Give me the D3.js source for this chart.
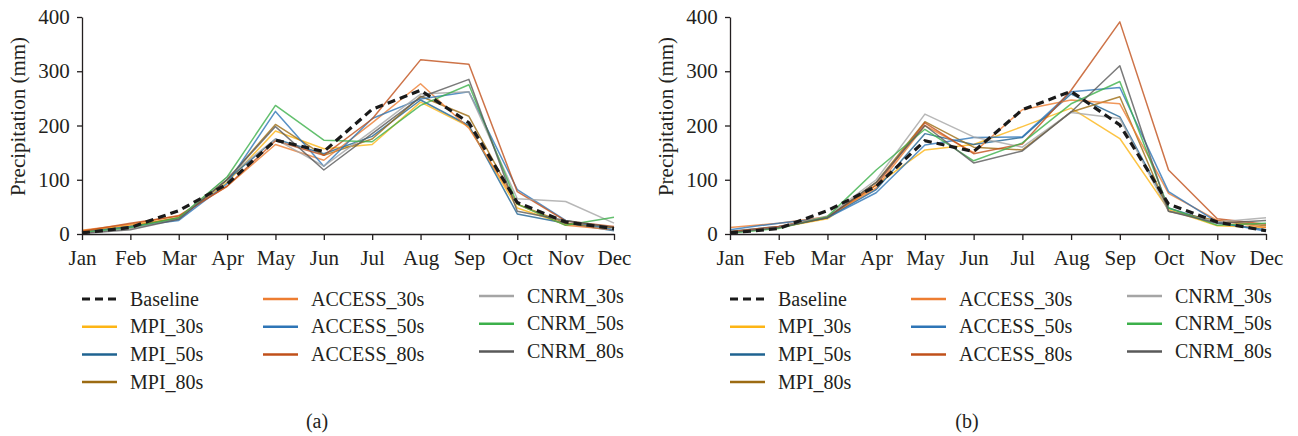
<!DOCTYPE html>
<html>
<head>
<meta charset="utf-8">
<script src="https://cdn.jsdelivr.net/npm/d3@7"></script>
<style>
  body { margin: 0; background: #fff; }
  text { font-family: "Liberation Serif", "DejaVu Serif", serif; fill: #231f20; }
  .axis path, .axis line { stroke: #231f20; stroke-width: 1.3; }
</style>
</head>
<body>
<script>
// monthly precipitation, two stations, baseline vs GCM projections

var months = ["Jan", "Feb", "Mar", "Apr", "May", "Jun", "Jul", "Aug", "Sep", "Oct", "Nov", "Dec"];
var yTicks = [0, 100, 200, 300, 400];

var seriesNames = ["Baseline", "MPI_30s", "MPI_50s", "MPI_80s",
                   "ACCESS_30s", "ACCESS_50s", "ACCESS_80s",
                   "CNRM_30s", "CNRM_50s", "CNRM_80s"];
var seriesColors = ["#1a1a1a", "#fdb515", "#1f6391", "#9c6b12",
                    "#ed7d31", "#2e75b6", "#c0501a",
                    "#a5a5a5", "#3cb04a", "#595959"];

// panel (a)
var a_baseline  = [2, 12, 43, 92, 173, 152, 230, 265, 205, 58, 22, 10];
var a_mpi30     = [6, 16, 30, 95, 190, 157, 165, 243, 198, 48, 18, 12];
var a_mpi50     = [3, 12, 28, 100, 175, 148, 180, 247, 200, 37, 20, 6];
var a_mpi80     = [4, 14, 30, 100, 202, 145, 175, 254, 217, 55, 20, 12];
var a_access30  = [7, 18, 34, 88, 165, 136, 205, 277, 195, 55, 16, 8];
var a_access50  = [3, 14, 25, 93, 226, 125, 213, 249, 262, 82, 25, 8];
var a_access80  = [5, 20, 33, 88, 172, 145, 212, 321, 313, 78, 24, 14];
var a_cnrm30    = [2, 10, 28, 105, 175, 125, 190, 258, 262, 65, 60, 20];
var a_cnrm50    = [3, 12, 30, 105, 237, 173, 170, 237, 275, 55, 16, 31];
var a_cnrm80    = [1, 8, 27, 100, 198, 118, 185, 252, 285, 42, 25, 12];

// panel (b)
var b_baseline  = [2, 10, 43, 88, 172, 152, 229, 263, 201, 55, 22, 6];
var b_mpi30     = [3, 12, 28, 90, 155, 165, 198, 232, 176, 45, 15, 12];
var b_mpi50     = [5, 14, 30, 82, 185, 165, 178, 258, 216, 48, 20, 8];
var b_mpi80     = [4, 12, 30, 95, 207, 160, 155, 225, 253, 42, 25, 15];
var b_access30  = [12, 20, 32, 85, 200, 150, 229, 247, 240, 75, 25, 12];
var b_access50  = [8, 20, 30, 76, 164, 178, 179, 262, 270, 78, 22, 5];
var b_access80  = [4, 14, 32, 90, 205, 148, 166, 265, 391, 118, 28, 18];
var b_cnrm30    = [2, 12, 33, 100, 221, 179, 160, 224, 213, 42, 22, 30];
var b_cnrm50    = [2, 10, 32, 118, 193, 135, 168, 240, 281, 48, 16, 20];
var b_cnrm80    = [3, 12, 30, 95, 200, 131, 153, 225, 310, 42, 20, 25];

var panelA = [a_baseline, a_mpi30, a_mpi50, a_mpi80, a_access30, a_access50, a_access80, a_cnrm30, a_cnrm50, a_cnrm80];
var panelB = [b_baseline, b_mpi30, b_mpi50, b_mpi80, b_access30, b_access50, b_access80, b_cnrm30, b_cnrm50, b_cnrm80];

var svg = d3.select("body").append("svg")
    .attr("width", 1298)
    .attr("height", 436);

function drawPanel(data, left, width, caption) {
    var top = 17, height = 217;

    var xScale = d3.scalePoint().domain(months).range([0, width]);
    var yScale = d3.scaleLinear().domain([0, 400]).range([height, 0]);

    var g = svg.append("g")
        .attr("transform", "translate(" + left + "," + top + ")");

    var line = d3.line()
        .x(function(d, i) { return xScale(months[i]); })
        .y(function(d) { return yScale(d); });

    // model lines first, baseline on top
    for (var s = 1; s < data.length; s++) {
        g.append("path")
            .attr("d", line(data[s]))
            .attr("fill", "none")
            .attr("stroke", seriesColors[s])
            .attr("stroke-width", 1.5)
            .attr("stroke-linejoin", "round")
            .attr("opacity", 0.8);
    }
    g.append("path")
        .attr("d", line(data[0]))
        .attr("fill", "none")
        .attr("stroke", seriesColors[0])
        .attr("stroke-width", 3.2)
        .attr("stroke-dasharray", "8,5");

    var xAxis = g.append("g")
        .attr("class", "axis")
        .attr("transform", "translate(0," + height + ")")
        .call(d3.axisBottom(xScale).tickSize(6).tickSizeOuter(0));
    xAxis.selectAll("text")
        .attr("dy", "1.05em")
        .style("font-size", "21px");

    var yAxis = g.append("g")
        .attr("class", "axis")
        .call(d3.axisLeft(yScale).tickValues(yTicks).tickSize(5).tickSizeOuter(0));
    yAxis.selectAll("text")
        .attr("dx", "-0.2em")
        .style("font-size", "21px");

    g.append("text")
        .attr("transform", "rotate(-90)")
        .attr("x", -height / 2 + 9)
        .attr("y", -57)
        .attr("text-anchor", "middle")
        .style("font-size", "21px")
        .text("Precipitation (mm)");

    // legend in three columns
    var colX = [0, 181, 397];
    var colRows = [[0, 1, 2, 3], [4, 5, 6], [7, 8, 9]];
    var colY = [299, 299, 296];
    colRows.forEach(function(rows, c) {
        rows.forEach(function(s, r) {
            var y = colY[c] + r * 27.7;
            var lg = svg.append("g")
                .attr("transform", "translate(" + (left + colX[c]) + "," + y + ")");
            lg.append("line")
                .attr("x1", 0).attr("x2", 35)
                .attr("y1", 0).attr("y2", 0)
                .attr("stroke", seriesColors[s])
                .attr("stroke-width", s === 0 ? 3 : 2.5)
                .attr("stroke-dasharray", s === 0 ? "8,5" : null);
            lg.append("text")
                .attr("x", 48)
                .attr("y", 6.5)
                .style("font-size", "20px")
                .text(seriesNames[s]);
        });
    });

    svg.append("text")
        .attr("x", left + width / 2 - 31)
        .attr("y", 428)
        .attr("text-anchor", "middle")
        .style("font-size", "20px")
        .text(caption);
}

drawPanel(panelA, 82, 532, "(a)");
drawPanel(panelB, 730, 536, "(b)");
</script>
</body>
</html>
